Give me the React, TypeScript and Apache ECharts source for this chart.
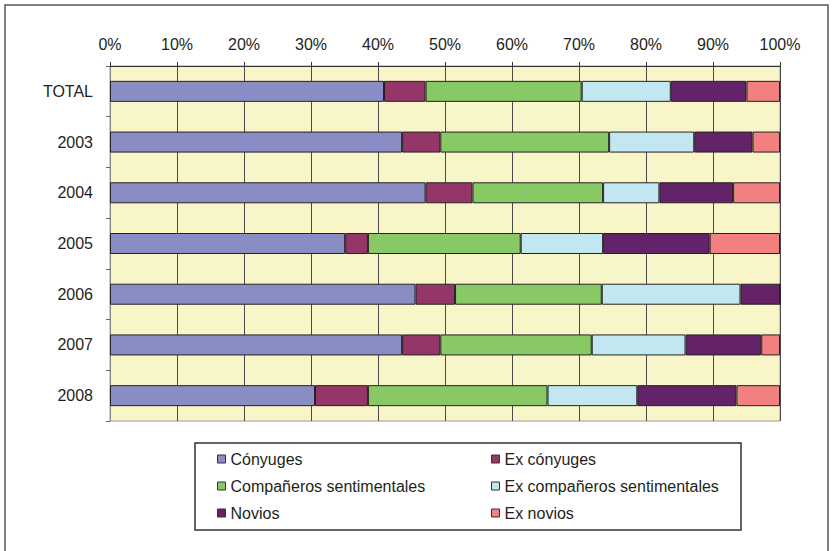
import React, { useEffect, useRef } from "react";
import * as echarts from "echarts";

const categories = ["TOTAL", "2003", "2004", "2005", "2006", "2007", "2008"];
const seriesNames = [
  "Cónyuges",
  "Ex cónyuges",
  "Compañeros sentimentales",
  "Ex compañeros sentimentales",
  "Novios",
  "Ex novios",
];
const conyuges = [40.9, 43.6, 47.1, 35.1, 45.6, 43.6, 30.6];
const exConyuges = [6.2, 5.7, 7.0, 3.4, 5.9, 5.7, 7.9];
const companeros = [23.3, 25.2, 19.5, 22.8, 21.9, 22.6, 26.8];
const exCompaneros = [13.3, 12.7, 8.4, 12.3, 20.7, 14.0, 13.4];
const novios = [11.3, 8.7, 11.0, 15.9, 5.9, 11.3, 14.8];
const exNovios = [5.0, 4.1, 7.0, 10.5, 0, 2.8, 6.5];
const seriesValues = [conyuges, exConyuges, companeros, exCompaneros, novios, exNovios];
const colors = ["#8A8DC3", "#953669", "#88C865", "#C3E7F0", "#642369", "#F28080"];

const FONT = '"Liberation Sans", Arial, Helvetica, sans-serif';

export default function App() {
  const ref = useRef<HTMLDivElement>(null);
  useEffect(() => {
    if (!ref.current) return;
    const chart = echarts.init(ref.current, null, { renderer: "svg" });
    const legendCommon = {
      orient: "vertical",
      top: 451,
      padding: 0,
      itemWidth: 8,
      itemHeight: 8,
      itemGap: 11,
      icon: "rect",
      textStyle: { color: "#231f20", fontSize: 16, fontFamily: FONT },
      itemStyle: { borderColor: "#333", borderWidth: 1 },
      selectedMode: false,
    };
    chart.setOption({
      animation: false,
      color: colors,
      textStyle: { fontFamily: FONT },
      grid: {
        left: 110,
        top: 66,
        width: 670,
        height: 355,
        show: true,
        backgroundColor: "#F8F6C8",
        borderColor: "#999",
        borderWidth: 1,
      },
      xAxis: {
        type: "value",
        position: "top",
        min: 0,
        max: 100,
        interval: 10,
        axisLine: { show: true, lineStyle: { color: "#333", width: 1 } },
        axisTick: { show: true, length: 4, lineStyle: { color: "#333" } },
        axisLabel: {
          formatter: "{value}%",
          color: "#231f20",
          fontSize: 16,
          fontFamily: FONT,
          margin: 14,
        },
        splitLine: { show: true, lineStyle: { color: "#4a4a4a", width: 1 } },
      },
      yAxis: {
        type: "category",
        inverse: true,
        data: categories,
        axisLine: { show: true, lineStyle: { color: "#888", width: 1 } },
        axisTick: { show: true, length: 4, lineStyle: { color: "#666" } },
        axisLabel: { color: "#231f20", fontSize: 16, fontFamily: FONT, margin: 17 },
        splitLine: { show: false },
      },
      legend: [
        { ...legendCommon, left: 217, data: [seriesNames[0], seriesNames[2], seriesNames[4]] },
        { ...legendCommon, left: 491, data: [seriesNames[1], seriesNames[3], seriesNames[5]] },
      ],
      graphic: [
        {
          type: "rect",
          shape: { x: 5, y: 5, width: 823, height: 700 },
          style: { fill: "none", stroke: "#555", lineWidth: 1.5 },
          silent: true,
        },
        {
          type: "rect",
          shape: { x: 195, y: 443, width: 546, height: 87 },
          style: { fill: "none", stroke: "#333", lineWidth: 1.5 },
          silent: true,
        },
      ],
      series: seriesNames.map((name, i) => ({
        name,
        type: "bar",
        stack: "total",
        barWidth: 21,
        data: seriesValues[i],
        itemStyle: { color: colors[i], borderColor: "#222", borderWidth: 1 },
      })),
    });
    return () => chart.dispose();
  }, []);
  return (
    <div
      ref={ref}
      style={{ position: "absolute", left: 0, top: 0, width: 832, height: 551, background: "#fff" }}
    />
  );
}
